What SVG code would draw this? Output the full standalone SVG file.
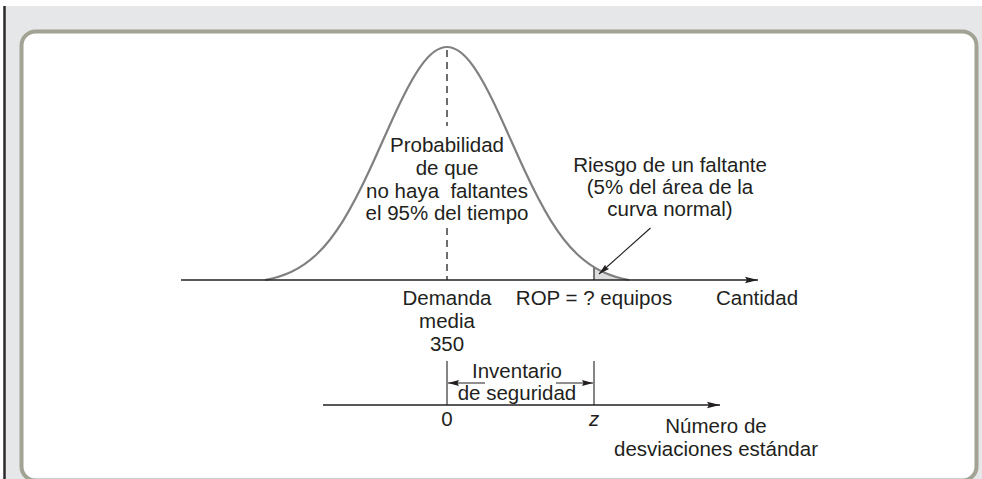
<svg xmlns="http://www.w3.org/2000/svg" width="982" height="479" viewBox="0 0 982 479">
<style>
  .t { font-family: "Liberation Sans", Arial, Helvetica, sans-serif; font-size: 20.5px; fill: #231f20; text-anchor: middle; }
  .ax { stroke: #231f20; stroke-width: 1.4; fill: none; }
  .thin { stroke: #231f20; stroke-width: 1.1; fill: none; }
</style>
<defs>
  <marker id="ah" viewBox="0 0 13 8" refX="13" refY="4" markerWidth="13" markerHeight="8" orient="auto" markerUnits="userSpaceOnUse">
    <path d="M0,0.8 L13,4 L0,7.2 L2,4 z" fill="#231f20"/>
  </marker>
  <marker id="ahs" viewBox="0 0 11 7" refX="11" refY="3.5" markerWidth="11" markerHeight="7" orient="auto" markerUnits="userSpaceOnUse">
    <path d="M0,0.6 L11,3.5 L0,6.4 L1.5,3.5 z" fill="#231f20"/>
  </marker>
</defs>

<g id="background">
  <rect x="0" y="0" width="982" height="479" fill="#ffffff"/>
  <rect x="4" y="6" width="978" height="473" fill="#e6e7e8"/>
  <line x1="4.5" y1="6" x2="4.5" y2="479" stroke="#2b2b2b" stroke-width="2.5"/>
  <rect x="21.5" y="31.5" width="955" height="449" rx="14" ry="14" fill="#ffffff" stroke="#a2a295" stroke-width="4"/>
</g>

<g id="normal-curve">
  <path d="M594,280 L594,267.3 Q598.5,269.8 603,271.99 C611.667,276.006 620.333,278.398 629,280 Z" fill="#dcdddf"/>
  <line x1="594" y1="267.3" x2="594" y2="280" stroke="#555" stroke-width="1.6"/>
  <path d="M265,280 C273.667,278.398 282.333,276.006 291,271.99 C299.667,267.974 308.333,262.311 317,254.02 C325.667,245.729 334.333,234.759 343,220.82 C351.667,206.881 360.333,189.942 369,171.32 C377.667,152.698 386.333,132.428 395,113.67 C403.667,94.912 412.333,77.803 421,65.79 C429.667,53.777 438.333,47 447,47 C455.667,47 464.333,53.777 473,65.79 C481.667,77.803 490.333,94.912 499,113.67 C507.667,132.428 516.333,152.698 525,171.32 C533.667,189.942 542.333,206.881 551,220.82 C559.667,234.759 568.333,245.729 577,254.02 C585.667,262.311 594.333,267.974 603,271.99 C611.667,276.006 620.333,278.398 629,280" fill="none" stroke="#808080" stroke-width="2.2"/>
</g>

<g id="connectors">
  <line class="ax" x1="181" y1="280" x2="758" y2="280" marker-end="url(#ah)"/>
  <line x1="447" y1="50" x2="447" y2="126" stroke="#231f20" stroke-width="1.3" stroke-dasharray="7,5"/>
  <line x1="447" y1="228" x2="447" y2="280" stroke="#231f20" stroke-width="1.3" stroke-dasharray="7,5"/>
  <line class="thin" x1="650.5" y1="228" x2="599" y2="274" marker-end="url(#ahs)"/>
  <line class="ax" x1="323" y1="405" x2="720" y2="405" marker-end="url(#ah)"/>
  <line class="thin" x1="447" y1="361" x2="447" y2="405"/>
  <line class="thin" x1="594" y1="361" x2="594" y2="405"/>
  <line class="thin" x1="485" y1="383" x2="448" y2="383" marker-end="url(#ahs)"/>
  <line class="thin" x1="556" y1="383" x2="593" y2="383" marker-end="url(#ahs)"/>
</g>

<g id="label-probabilidad">
  <text class="t" x="447" y="152">Probabilidad</text>
  <text class="t" x="447" y="175">de que</text>
  <text class="t" x="447" y="198" xml:space="preserve">no haya  faltantes</text>
  <text class="t" x="447" y="220">el 95% del tiempo</text>
</g>

<g id="label-riesgo">
  <text class="t" x="670" y="172">Riesgo de un faltante</text>
  <text class="t" x="670" y="194">(5% del área de la</text>
  <text class="t" x="670" y="216">curva normal)</text>
</g>

<g id="label-demanda">
  <text class="t" x="447" y="304.5">Demanda</text>
  <text class="t" x="447" y="327.5">media</text>
  <text class="t" x="447" y="350.5">350</text>
</g>

<g id="label-rop">
  <text class="t" x="594" y="304.5">ROP = ? equipos</text>
</g>

<g id="label-cantidad">
  <text class="t" x="757" y="304.5">Cantidad</text>
</g>

<g id="label-inventario">
  <text class="t" x="517" y="377.5">Inventario</text>
  <text class="t" x="517" y="400">de seguridad</text>
</g>

<g id="label-zero">
  <text class="t" x="447" y="425.5">0</text>
</g>

<g id="label-z">
  <text class="t" x="594" y="425.5" font-style="italic">z</text>
</g>

<g id="label-numero">
  <text class="t" x="716" y="433">Número de</text>
  <text class="t" x="716" y="456">desviaciones estándar</text>
</g>
</svg>
